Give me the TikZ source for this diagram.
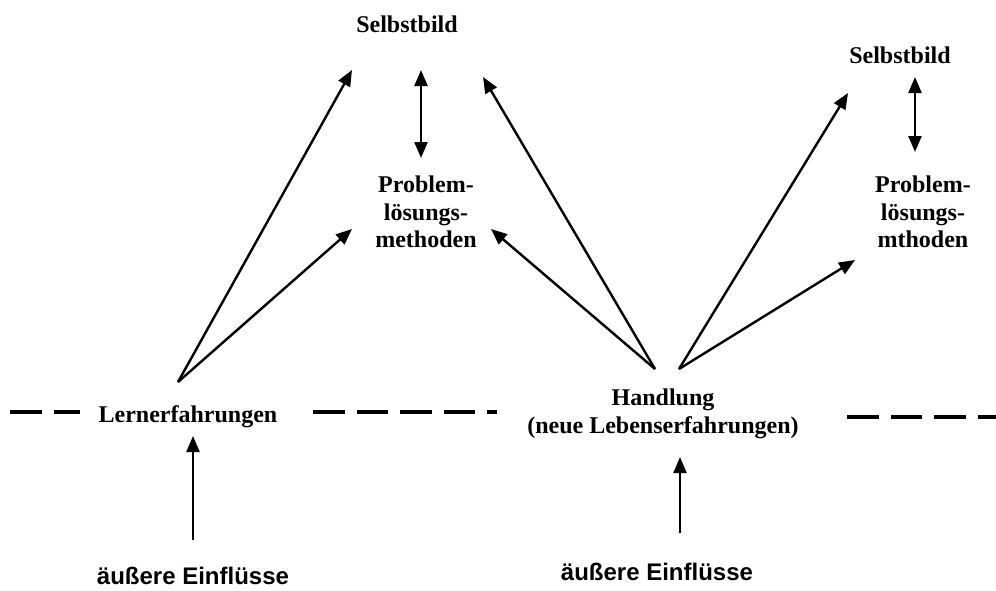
\documentclass[tikz,border=0pt]{standalone}
\usepackage{fontspec}
\setmainfont{Liberation Serif}
\setsansfont{Liberation Sans}
\usetikzlibrary{arrows.meta}
\tikzset{labeltext/.style={font=\fontsize{24}{27.5}\selectfont\bfseries,align=center,inner sep=0},
    sanslabel/.style={font=\fontsize{24}{27.5}\selectfont\sffamily\bfseries,inner sep=0},
    thickarrow/.style={line width=2.4pt},
    dashline/.style={line width=4pt,dash pattern=on 31.5pt off 12pt}
}

\begin{document}
\begin{tikzpicture}[x=1pt,y=-1pt,>={Triangle[length=16pt,width=13pt]}]

\useasboundingbox (0,0) rectangle (996,590);

%% left part
\node (selbstA) at (407,32) [labeltext,anchor=base] {Selbstbild};
\node (problemA) at (426,212) [labeltext] {Problem-\\lösungs-\\methoden};
\node (lern) at (188,422) [labeltext,anchor=base] {Lernerfahrungen};
\node (einflA) at (193,584) [sanslabel,anchor=base] {äußere Einflüsse};

\coordinate (selbstAtop) at (421,70);
\coordinate (problemAtop) at (421,158);
\coordinate (selbstAleft) at (352,70);
\coordinate (problemAleft) at (352,229);
\coordinate (lernTail) at (178,382);
\coordinate (lernFoot) at (193,436);
\coordinate (einflAtop) at (193,540);

\draw [<->,thickarrow] (selbstAtop) -- (problemAtop);
\draw [->,thickarrow] (lernTail) -- (selbstAleft);
\draw [->,thickarrow] (lernTail) -- (problemAleft);
\draw [->,thickarrow] (einflAtop) -- (lernFoot);

%% right part
\node (selbstB) at (900,63) [labeltext,anchor=base] {Selbstbild};
\node (problemB) at (923,212) [labeltext] {Problem-\\lösungs-\\mthoden};
\node (handl) at (663,414) [labeltext] {Handlung\\(neue Lebenserfahrungen)};
\node (einflB) at (657,580) [sanslabel,anchor=base] {äußere Einflüsse};

\coordinate (selbstBtop) at (915,77);
\coordinate (problemBtop) at (915,152);
\coordinate (selbstAright) at (483,77);
\coordinate (problemAright) at (491,229);
\coordinate (selbstBleft) at (848,93);
\coordinate (problemBleft) at (855,260);
\coordinate (handlTailL) at (655,369);
\coordinate (handlTailR) at (679,369);
\coordinate (handlFoot) at (680,457);
\coordinate (einflBtop) at (680,533);

\draw [<->,thickarrow] (selbstBtop) -- (problemBtop);
\draw [->,thickarrow] (handlTailL) -- (selbstAright);
\draw [->,thickarrow] (handlTailL) -- (problemAright);
\draw [->,thickarrow] (handlTailR) -- (selbstBleft);
\draw [->,thickarrow] (handlTailR) -- (problemBleft);
\draw [->,thickarrow] (einflBtop) -- (handlFoot);

%% boundary
\draw [dashline] (10,412) -- (80,412);
\draw [dashline] (313,412) -- (497,412);
\draw [dashline] (847,417) -- (996,417);

\end{tikzpicture}
\end{document}
